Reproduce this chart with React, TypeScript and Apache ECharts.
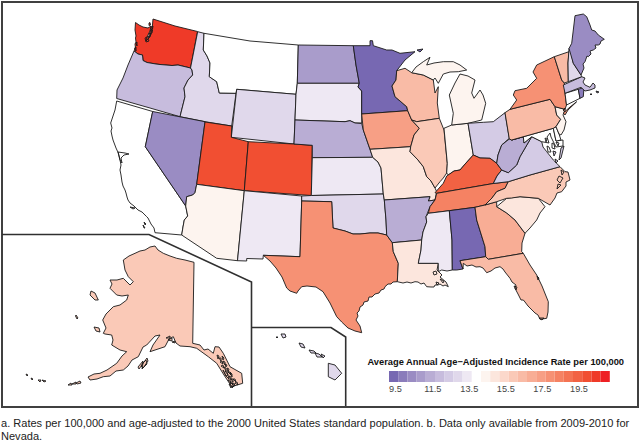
import React, { useEffect, useRef } from "react";
import * as echarts from "echarts";

// Legend bins (lower edge of each half-unit cell) and their colours
const binValues = [9.5,10,10.5,11,11.5,12,12.5,13,13.5,14,14.5,15,15.5,16,16.5,17,17.5,18,18.5,19,19.5,20,20.5,21];
const binColors = ["#7768B2","#8A7CBB","#9A8CC3","#A99CCB","#B9ADD4","#C7BCDD","#D4CBE5","#E0D8EB","#EEE8F3","#FFFFFF","#FDF4EF","#FCE6DD","#FBD8CB","#FAC9B7","#F9BBA6","#F8AD95","#F79F85","#F69174","#F58263","#F47353","#F26243","#F14F32","#EF3A28","#EE2024"];
const tickLabels = ["9.5","11.5","13.5","15.5","17.5","19.5"];
const legendTitle = "Average Annual Age\u2212Adjusted Incidence Rate per 100,000";
const footnote1 = "a. Rates per 100,000 and age-adjusted to the 2000 United States standard population. b. Data only available from 2009-2010 for";
const footnote2 = "Nevada.";

const stateNames = ["WA","OR","CA","ID","MT","WY","NV","UT","CO","AZ","NM","ND","SD","NE","KS","OK","TX","MN","IA","MO","AR","LA","WI","IL","IN","MI","OH","KY","TN","MS","AL","GA","FL","SC","NC","VA","WV","MD","DE","PA","NJ","NY","CT","RI","MA","VT","NH","ME","AK","HI"];
const stateValues = [20.5,12,14,13,14,13,10.5,20,20,14.5,13.5,11,13.5,11.5,13.5,13,18,9.5,17.5,15,11.5,15,16.5,16,14.5,14.5,12.5,19.5,18.5,13.5,9.5,17,16.5,15,16,12.5,11.5,14,14,16.5,14.5,18,14,10,12,16.5,13,10.5,16,13];

// State outlines (flat x,y rings in map units)
const shapes: Record<string, number[][]> = {
  WA: [[135.5,22.5,139,25,143,27,148,28,151,26,150,31,147,37,146,41,150,37,152,30,153,19,175,26,197.5,31.5,190.5,68,178,65,172,65.5,166,65,160,64.5,156,64,147,62.5,143,60.5,142.5,55,138,54,134,50.5,135.5,48,135,44,136,42,135.5,38,136,36,135,30],[149,23,150,22.5,150.5,25,149,25.5],[151,27,153,26,152.5,29,151,30],[150.5,30,152.5,30,152,33,150,34],[149,33,151,34,149.5,37],[145,38,149,36,148,39,149,41,146,42],[136,43,137,42,137,46],[134.5,48,136,47,136,51]],
  OR: [[134,51,138,54,142.5,55,143,60.5,147,62.5,156,64,160,64.5,166,65,172,65.5,178,65,190.5,68,192,70,192.7,75,188,80,184,88,185,96.7,180,116.7,150,108,116.7,98.5,117,90,123,78,128,65,131,58]],
  CA: [[116.7,101,152.7,111.5,145.3,146.7,185.7,206,187.7,216,184.3,220,183,227,181.7,235,155,232.7,154,228,151,224,148,218,146.7,216.7,142,212,138,210,134,206,130,203,128,200,127,197,126,193,125,190,123,186,122,182,121,175,120,170,121,165,120,160,118.3,153,116,148,113,140,112,136,111,131,112,128,110.7,123,113,116,115,110],[118,152,125,153,129,154,124,155,121,158,122,163,120,160],[130,207,135,208,133,209],[144,222,146,224,145,225],[143,225,145,228,144,228]],
  ID: [[197.7,31.7,204,33.3,203.3,50,207,56,210,63,209.3,76.7,216.7,81.7,219.3,93,236,93.3,231.7,126,205,121.7,180,116.7,185,96.7,184,88,188,80,192.7,75,192,70,190.5,68]],
  MT: [[204,33.3,250,41,298.3,45,297.3,83.3,296,94.3,236.7,89.3,236,93.3,219.3,93,216.7,81.7,209.3,76.7,210,63,207,56,203.3,50]],
  WY: [[236.7,89.3,296,94.3,294,144,231.3,137.3]],
  NV: [[152.7,111.5,205,121.7,196.7,184.3,195,192.7,192.7,195,186.7,196.7,185.7,206,145.3,146.7]],
  UT: [[205,122,231.7,126,231.3,137.3,248.3,141.7,244.3,190.7,196.7,184.3]],
  CO: [[248.3,141.7,294,144,312.3,145.3,311.3,195.5,244.3,190.7]],
  AZ: [[196.7,184.3,244.3,190.7,237.5,260.7,216.7,258.3,181.7,235,183,227,184.3,220,187.7,216,185.7,206,186.7,196.7,192.7,195,195,192.7]],
  NM: [[244.3,190.7,301.7,196,301.7,201,300,256.7,263.3,255.3,263,259,246.7,258.5,246.7,261,237.5,260.7]],
  ND: [[298.3,45,353.3,45.7,356,65,359.3,83.3,297.3,83.3]],
  SD: [[297.3,83.3,359.3,83.3,358,87,361.7,91,361.7,113.3,361.7,123,355,123,350,120.7,345,121.7,295,120,296,94.3]],
  NE: [[295,120,345,121.7,350,120.7,355,123,361.7,123.5,363.3,130,370,149.3,372.7,157.3,312.3,157.7,312.3,145.3,294,144]],
  KS: [[312.3,157.7,372.7,157.3,378,162,381,168,383.3,194,311.3,195.5]],
  OK: [[301.7,196,311.3,195.5,383.3,194,384.3,200,386,220,386.7,235,378,233,370,233,360,234,353,234,345,231,333,228,331.7,201.7,301.7,201]],
  TX: [[301.7,201,331.7,201.7,333,228,345,231,353,234,360,234,370,233,378,233,386.7,235,392.3,242.7,393.3,251.7,398.3,263.3,397.3,281.7,393,282,391,284,388,284,385,286.7,384,289,381,290,379,293,375,294,372,297,369,297,368,301,364,302,363,305,360,307,359,311,357,313,358,316,356,320,358,323,360,326,361.7,332.7,355,331,348,328,341.7,322,336.7,316.7,330,303,323,291.7,316,287,307,286,301.7,286.7,298,291,296.7,293.3,290,291,286.7,288,282,277,276,268,270,261,263.3,255.3,300,256.7]],
  MN: [[353.3,45.7,370,45.7,370,40.7,372.5,40.7,373.3,45.7,386.7,50,392,50,400,53.3,415,51.7,405,60,396.7,70.7,396,80,392,86,395,96.7,406.7,106.7,407.7,110.7,361.7,114,361.7,91,358,87,359.3,83.3,356,65],[417,50,423,49,420,52]],
  IA: [[361.7,114,407.7,110.7,411.7,120,419.3,128.3,414,135,410.7,146.7,370,149.3,363.3,130]],
  MO: [[370,149.3,410.7,146.7,410,151.7,418,160,423.3,166.7,426.7,176.7,431,181,435,188,436.7,191.7,435,200,428.3,201,430,196.7,384.3,200,383.3,194,381,168,378,162,372.7,157.3]],
  AR: [[384.3,200,430,196.7,428.3,201,435,200,430,206.7,426,216.7,426.7,222,423,232,421.7,240,392.3,242.7,386.7,235,386,220]],
  LA: [[392.3,242.7,421.7,240,421,250,418.3,263.3,438.3,263.3,437,270,442,275,440,277,446,282,448.3,286.7,445,285,443,286,440,284,438,285,435,285,434,287,431,287,426.7,286.7,424,283,421,284,418,282,415,281.7,411,283,407,282,403,283,397.3,281.7,398.3,263.3,393.3,251.7],[433,272,436,271,437,274,434,275],[440,279,444,281,443,283],[436,282,439,283,437,285]],
  WI: [[396.7,70.7,405,68.3,411.7,72.7,423.3,75,433.3,80,435,93,438.3,86.7,437.3,103,439.3,118.3,416.7,121.7,411.7,120,407.7,110.7,406.7,106.7,395,96.7,392,86,396,80]],
  IL: [[416.7,121.7,439.3,118.3,444,130,447.3,163.3,446.7,173,443.3,178,440,181.7,435,188,431,181,426.7,176.7,423.3,166.7,418,160,410,151.7,410.7,146.7,414,135,419.3,128.3,411.7,120]],
  IN: [[444,128.3,451.7,125,468,123.3,473.3,155,466,163,460,170,454,171,448.3,175,446.7,173,447.3,163.3]],
  MI: [[451.7,125,468,123.3,481.7,120,485.7,103.3,483,95,480,90,474,98.3,471.7,93,475,80,468,76,460,74,455,83,449.3,95,453.3,113.3],[411.7,72.7,416,67,423.3,61.7,430,57.3,426.7,65,434,63,443.3,61.7,453.3,61.7,460,65,466.7,70,458.3,71.7,450,72,443.3,74,438.3,83.3,435,78,433.3,80,423.3,75]],
  OH: [[468,123.3,483.3,122.3,493.3,121.7,505,112.7,509.3,138.3,501.7,145,498,155,496.7,163.3,490,158.3,480,158,473.3,155]],
  KY: [[435,192.7,443.3,183.3,446.7,176,454,171,460,170,466,163,473.3,155,480,158,490,158.3,496.7,163.3,501.7,170,497,176,493.3,183.5,436.7,193.3]],
  TN: [[436.7,193.3,493.3,183.5,508.3,181.7,505,188.3,496.7,191.7,492,198,485,205,475,207.3,449.3,210.7,428.3,213.3,430,206.7,435,200]],
  MS: [[428.3,213.3,449.3,210.7,452,240,452.3,270,447,271,441.7,270,438.3,271.7,438.3,263.3,418.3,263.3,421,250,421.7,240,423,232,426.7,222,426,216.7]],
  AL: [[449.3,210.7,475,207.3,476.7,220,485,246.7,485.7,256.7,460,260.7,463,269,456.7,270,452.3,270,452,240]],
  GA: [[475,207.3,485,205,496.7,201.7,496.7,206.7,506.7,213,515,220,525,233.3,522,243,521.7,251.7,523.3,253.3,488.3,259.3,485.7,256.7,485,246.7,476.7,220]],
  FL: [[460,260.7,485.7,256.7,488.3,259.3,523.3,253.3,530,265,536.7,275,542,286,548.3,301.7,548,312,546.7,318.3,540,319.3,538,315,535,313,532,310,528,306,525,302,523.3,300,521,300,518,294,515,288.3,516,285,512,282,510,278.3,505,272,503,269,500,266.7,495,268,491,271,486.7,272.7,483,268,480,266.7,476,267,472,265,467,266,463.3,263.3,463,269],[514,286,517,287,516,290],[537,276,539,278,538,280],[539,318,544,318,542,320]],
  SC: [[496.7,206.7,506.7,198.3,520,196.7,538.3,198.3,545,206.7,540,213,536.7,220,530,228,525,233.3,515,220,506.7,213]],
  NC: [[560,166.7,565,171.7,568,172,570,180,566,182,566,186,561.7,191.7,557,193,555,198,550,205,538.3,198.3,520,196.7,511.7,198,506.7,198.3,496.7,201.7,485,205,492,198,496.7,191.7,505,188.3,508.3,181.7,530,175],[559,176,563,178,560,183,557,180],[558,184,561,185,557,189],[561,170,564,172,562,175]],
  VA: [[531.7,136.7,541.7,141.7,543,147,546.7,151.7,553.3,160,560,166.7,530,175,508.3,181.7,493.3,183.5,497,176,501.7,170,508.3,172.7,516.7,165,520,156.7,528,143],[561,148,564,146,561,158,559,160],[553,151,556,152,554,156],[555,159,558,161,556,163]],
  WV: [[509.3,139,511.7,140,523.3,136.7,524,143,531.7,136.7,528,143,520,156.7,516.7,165,508.3,172.7,501.7,170,496.7,163.3,498,155,501.7,145]],
  MD: [[511.7,140,553.3,128.3,556,141,563,140,563,146,556,147,553,141,551,137,550,133,547,137,549,143,541.7,141.7,531.7,136.7,524,143,523.3,136.7],[547,146,549,147,551,152,548,152],[552,143,554,144,555,149,552,148],[545,138,547,139,546,142],[556,142,559,143,558,146]],
  DE: [[553.3,128.3,556,126.7,559,134,561,140,556,141]],
  PA: [[505,112.7,510,109.3,550,99.3,555,106.7,556.7,115,560.7,119.3,556,126.7,553.3,128.3,511.7,140,509.3,139]],
  NJ: [[555,106.7,565,109.3,563,115,566,121.7,564,130,561,135,559,134,556,126.7,560.7,119.3,556.7,115]],
  NY: [[510,109.3,516.7,100,513.3,95,515,90.7,526.7,88.3,536.7,78.3,533,72,536.7,65,554.3,56.7,561.7,80,564.3,83,565,93,566.5,105,565,109.3,555,106.7,550,99.3],[563.3,113,570,107,576.7,101.7,568,110,565,115],[563,110,565,108,565,112]],
  CT: [[565,93.3,578.3,89.3,580,98.3,566.5,105]],
  RI: [[578.3,89.3,584,87.5,583.3,96.7,580,98.3]],
  MA: [[563.3,85,581.7,76.7,585,78,583,82,585,85,590,87.3,593,83,595,85,595,88,590,90,585,91,581,87.3,565,93.3],[596,91,599,92,597,93],[590,94,592,94,591,95]],
  VT: [[554.3,56.7,569,51.7,568,63,568.3,81.7,564.3,83,561.7,80]],
  NH: [[569,48.5,571,52,573.3,63.3,581,75,581.7,76.7,568.3,81.7,568,63]],
  ME: [[575,15.7,583.3,14,586.7,16.7,590,25,591.7,30,595,31,598.3,35,604.3,39.3,601,41,600,44,598.3,45,595,45,596,48,593.3,50,590,51,591,54,588.3,56.7,587,56,585,61.7,583,64,584,68,581,75,573.3,63.3,569,48.5,571.7,43.3,573.3,30]],
  AK: [[123.3,260,129,256,135,253.3,140,251,145,250,150,247,155,246,158,250,163.3,253.3,170,256,176.7,258.3,185,260,194,262.3,192.7,343.3,200,345,204,350,208,349,213.3,353.3,215,346.7,219,347,223.3,353.3,230,366.7,241.7,373.3,242.7,383.3,231.7,386.7,224,375,216.7,363.3,208.3,356.7,196.7,348.3,190,346.7,180,346,176,343,173.3,336.7,169,339,165,346.7,150,351.7,153,345,160,335,155,336,146.7,345,143,347,138.3,356.7,132,360,128,366,123.3,370,116,371,110,376,103.3,376.7,97,379,90,380,88,377,94,374,100,373.3,107,370,116.7,363.3,122,356,126.7,351.7,120,350,111.7,345,113,340,111.7,335,105,334,103.3,333.3,106,328,102.7,320,106,314,113.3,306.7,120,305,126.7,300,128.3,295,122,296,116.7,295,110,288.3,112,284,110,280,117,280,123.3,278.3,130,285,133.3,281.7,128.3,276.7,125,270],[91,291,95,293,98.3,300,95,300,90,295],[76,315,78,318,77,319,75.5,316],[94,327,99,328,100,332,96,331],[138,367,143,361,142,365,139,369],[141,366,147,358,148,361,143,368],[143,363,146,360,147,364,142,369],[68,385,71,383,72,385],[72,384,76,382,76,384],[76,383,80,381,81,383,77,384],[38,380,41,380,40,382],[42,380,46,381,44,382],[31,378,33,379,32,380],[26,374,28,375,27,376],[168,340,172,338,172,341],[166,338,170,336,170,338],[172,342,175,341,175,343],
    [217,355,219,356,218,359],[219,358,221,358,221,361],[222,356,224,358,223,360],[220,362,222,361,223,364],[223,361,225,362,225,365],[225,364,227,365,226,367],[221,366,223,365,224,368],[224,367,226,368,226,371],[227,368,229,369,228,372],[225,371,227,372,228,375],[228,372,230,372,231,375],[223,370,224,372,226,376],[226,376,228,375,229,379],[229,376,231,377,231,380],[231,379,233,379,233,382],[228,380,230,380,231,384],[230,382,232,382,233,385],[232,384,234,383,235,386],[233,379,235,379,236,382],[230,372,232,374,232,377],[229,384,231,385,231,388],[232,386,234,386,232,388],[235,383,237,382,238,385]],
  HI: [[328.3,363.3,335,365,341.7,373.3,335,380,328.3,376.7],[281,334,285,334,286,337,283,338],[276,337,278,337,277,338],[299,343,303,344,305,348,301,347],[309,350,314,351,316,353,311,353],[315,353,319,354,322,357,317,357],[321,354,325,356,323,358]]
};

const geoJson = {
  type: "FeatureCollection",
  features: stateNames.map((name) => ({
    type: "Feature",
    properties: { name },
    geometry: {
      type: "MultiPolygon",
      coordinates: shapes[name].map((flat) => {
        const ring: number[][] = [];
        for (let i = 0; i < flat.length; i += 2) ring.push([flat[i], flat[i + 1]]);
        ring.push(ring[0]);
        return [ring];
      }),
    },
  })),
};

const tickCenters = [395.5, 432.8, 469.3, 505.8, 542.3, 579];

export default function App() {
  const ref = useRef<HTMLDivElement>(null);
  useEffect(() => {
    document.body.style.margin = "0";
    echarts.registerMap("usa", geoJson as any);
    const chart = echarts.init(ref.current!, null, { renderer: "svg" });
    const font = "'Liberation Sans', Arial, sans-serif";
    chart.setOption({
      animation: false,
      backgroundColor: "#fff",
      geo: {
        map: "usa",
        projection: { project: (p: number[]) => p, unproject: (p: number[]) => p },
        boundingCoords: [[0, 0], [640, 441]],
        left: 0, top: 0, width: 640, height: 441,
        roam: false,
        silent: true,
        label: { show: false },
        itemStyle: { areaColor: "#fff", borderColor: "#1a1a1a", borderWidth: 0.9 },
        emphasis: { disabled: true },
      },
      visualMap: {
        type: "piecewise",
        orient: "horizontal",
        left: 389, top: 371,
        padding: 0,
        itemWidth: 9.2, itemHeight: 11, itemGap: 0,
        itemSymbol: "rect",
        showLabel: false,
        selectedMode: false,
        hoverLink: false,
        seriesIndex: 0,
        pieces: binValues.map((v, i) => ({ gte: v, lt: v + 0.5, color: binColors[i] })),
      },
      series: [{
        type: "map",
        geoIndex: 0,
        silent: true,
        data: stateNames.map((name, i) => ({ name, value: stateValues[i] })),
      }],
      graphic: [
        { type: "rect", silent: true, shape: { x: 2, y: 2, width: 636, height: 405 }, style: { fill: "none", stroke: "#404040", lineWidth: 2 } },
        { type: "polyline", silent: true, shape: { points: [[2, 234.5], [149, 234.5], [251.5, 282], [251.5, 406]] }, style: { fill: "none", stroke: "#303030", lineWidth: 1.6 } },
        { type: "polyline", silent: true, shape: { points: [[251.5, 327.5], [331, 327.5], [345.7, 337], [345.7, 406]] }, style: { fill: "none", stroke: "#303030", lineWidth: 1.6 } },
        { type: "text", silent: true, x: 367.5, y: 362, style: { text: legendTitle, font: `bold 9.3px ${font}`, fill: "#111", textVerticalAlign: "middle" } },
        ...tickLabels.map((t, i) => ({ type: "text", silent: true, x: tickCenters[i], y: 388.5, style: { text: t, font: `9.2px ${font}`, fill: "#444", textAlign: "center", textVerticalAlign: "middle" } })),
        { type: "text", silent: true, x: 1, y: 422.5, style: { text: footnote1, font: `11.05px ${font}`, fill: "#222", textVerticalAlign: "middle" } },
        { type: "text", silent: true, x: 1, y: 436, style: { text: footnote2, font: `11.05px ${font}`, fill: "#222", textVerticalAlign: "middle" } },
      ],
    });
    return () => chart.dispose();
  }, []);
  return <div ref={ref} style={{ width: 640, height: 441 }} />;
}
